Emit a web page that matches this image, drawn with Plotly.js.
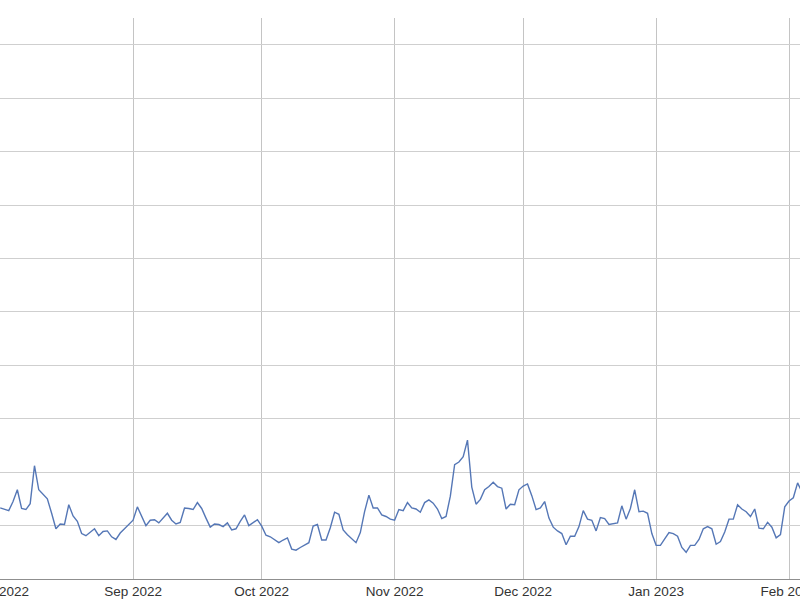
<!DOCTYPE html>
<html>
<head>
<meta charset="utf-8">
<script src="https://cdn.plot.ly/plotly-3.0.1.min.js"></script>
<style>html,body{margin:0;padding:0;background:#fff;}#chart{width:800px;height:600px;}</style>
</head>
<body>
<div id="chart"></div>
<script>
// Daily series starting 2022-08-01
const startDate = '2022-08-01';
const values = [
 1.33,1.30,1.28,1.45,1.67,1.32,1.30,1.41,2.12,1.67,
 1.58,1.50,1.23,0.94,1.03,1.02,1.39,1.18,1.08,0.85,
 0.81,0.87,0.94,0.81,0.89,0.90,0.79,0.74,0.86,0.94,
 1.02,1.10,1.35,1.16,1.00,1.10,1.11,1.05,1.15,1.23,
 1.10,1.03,1.06,1.33,1.32,1.30,1.43,1.32,1.14,0.97,
 1.03,1.02,0.98,1.05,0.92,0.94,1.08,1.20,1.00,1.05,
 1.11,0.99,0.82,0.79,0.74,0.68,0.73,0.77,0.56,0.54,
 0.59,0.63,0.68,0.99,1.02,0.73,0.73,0.96,1.25,1.21,
 0.92,0.83,0.75,0.68,0.87,1.26,1.57,1.33,1.33,1.20,
 1.17,1.12,1.10,1.30,1.28,1.43,1.33,1.31,1.25,1.43,
 1.48,1.42,1.31,1.13,1.17,1.55,2.14,2.19,2.29,2.60,
 1.72,1.40,1.49,1.67,1.73,1.81,1.73,1.70,1.31,1.40,
 1.39,1.67,1.74,1.78,1.56,1.30,1.33,1.45,1.14,0.97,
 0.90,0.85,0.64,0.80,0.80,0.98,1.28,1.12,1.10,0.90,
 1.15,1.13,1.02,1.04,1.05,1.37,1.12,1.32,1.67,1.26,
 1.27,1.23,0.85,0.63,0.63,0.75,0.87,0.85,0.80,0.59,
 0.50,0.63,0.63,0.74,0.94,0.98,0.94,0.65,0.70,0.88,
 1.12,1.12,1.39,1.31,1.26,1.17,1.31,0.95,0.94,1.06,
 0.97,0.77,0.83,1.35,1.46,1.52,1.80,1.63
];
const xRange = ['2022-07-31 23:00', '2023-02-03 13:24'];
const yRange = [0, 10.5];

const trace = {
  type: 'scatter',
  mode: 'lines',
  x0: startDate,
  dx: 86400000,
  y: values,
  line: {color: '#5577b6', width: 1.4},
  hoverinfo: 'x+y'
};

const layout = {
  width: 800,
  height: 600,
  margin: {l: 0, r: 0, t: 18, b: 21, pad: 0},
  paper_bgcolor: '#ffffff',
  plot_bgcolor: '#ffffff',
  showlegend: false,
  xaxis: {
    type: 'date',
    range: xRange,
    dtick: 'M1',
    tick0: '2022-08-01',
    tickformat: '%b %Y',
    showgrid: true,
    gridcolor: '#c4c4c4',
    gridwidth: 1,
    showline: true,
    linecolor: '#8f8f8f',
    linewidth: 1,
    ticks: '',
    ticklabeloverflow: 'allow',
    automargin: false,
    tickfont: {family: 'Liberation Sans, Arial, sans-serif', size: 13.5, color: '#333'},
    zeroline: false
  },
  yaxis: {
    range: yRange,
    dtick: 1,
    showgrid: true,
    gridcolor: '#cfcfcf',
    gridwidth: 1,
    showticklabels: false,
    ticks: '',
    zeroline: false,
    showline: false,
    automargin: false
  }
};

Plotly.newPlot('chart', [trace], layout, {displayModeBar: false, staticPlot: true});
</script>
</body>
</html>
